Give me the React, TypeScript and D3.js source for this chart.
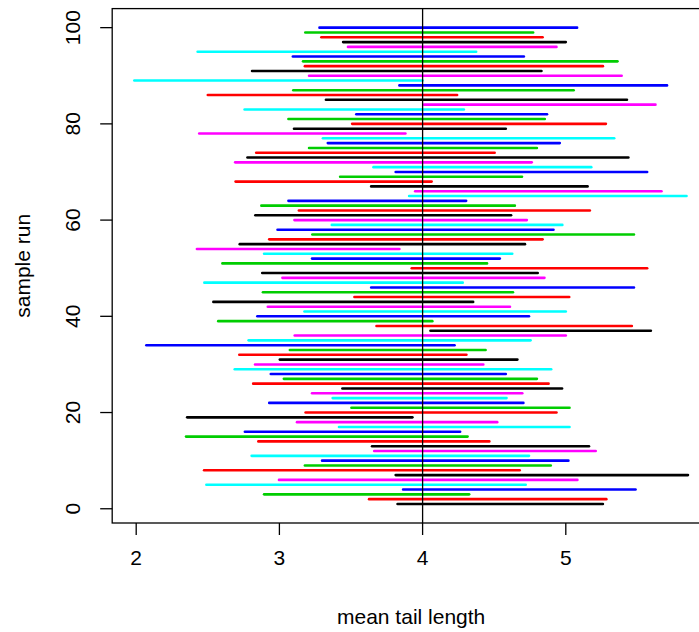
import React from 'react'
import * as d3 from 'd3'

// confidence intervals for 100 sample runs (run 1 at the bottom)
const lower = [
  3.825, 3.626, 2.893, 3.864, 2.490, 2.997, 3.812, 2.474, 3.178, 3.298,
  2.806, 3.662, 3.647, 2.853, 2.348, 2.759, 3.416, 3.123, 2.356, 3.183,
  3.503, 2.929, 3.372, 3.228, 3.440, 2.817, 3.031, 2.940, 2.688, 2.830,
  3.003, 2.720, 3.073, 2.071, 2.785, 3.107, 4.055, 3.678, 2.573, 2.846,
  3.175, 2.919, 2.539, 3.524, 2.885, 3.641, 2.476, 3.021, 2.880, 3.924,
  2.602, 3.228, 2.893, 2.424, 2.723, 2.929, 3.230, 2.987, 3.366, 3.105,
  2.832, 3.136, 2.874, 3.063, 3.906, 3.948, 3.641, 2.694, 3.424, 3.812,
  3.657, 2.691, 2.777, 2.838, 3.207, 3.338, 3.304, 2.440, 3.102, 3.508,
  3.063, 3.537, 2.757, 4.010, 3.325, 2.500, 3.097, 3.838, 1.987, 3.207,
  2.809, 3.178, 3.165, 3.094, 2.429, 3.479, 3.445, 3.293, 3.181, 3.280,
]
const upper = [
  5.259, 5.283, 4.325, 5.487, 4.720, 5.081, 5.853, 4.678, 4.895, 5.018,
  4.743, 5.209, 5.162, 4.466, 4.314, 4.262, 5.026, 4.521, 3.929, 4.935,
  5.026, 4.704, 4.586, 4.696, 4.974, 4.880, 4.798, 4.581, 4.898, 4.424,
  4.662, 4.306, 4.440, 4.223, 4.754, 5.000, 5.594, 5.461, 4.068, 4.743,
  5.000, 4.610, 4.353, 5.024, 4.631, 5.476, 4.280, 4.851, 4.804, 5.568,
  4.450, 4.539, 4.626, 3.838, 4.715, 4.838, 5.476, 4.914, 4.976, 4.728,
  4.618, 5.168, 4.644, 4.304, 5.843, 5.668, 5.152, 4.063, 4.694, 5.568,
  5.178, 4.762, 5.437, 4.503, 4.798, 4.958, 5.338, 3.880, 4.581, 5.280,
  4.853, 4.869, 4.288, 5.626, 5.427, 4.241, 5.055, 5.707, 4.000, 5.390,
  4.830, 5.259, 5.361, 4.707, 4.374, 4.935, 5.000, 4.838, 4.772, 5.079,
]
const palette = ['#000000', '#FF0000', '#00CD00', '#0000FF', '#00FFFF', '#FF00FF']
const xTicks = [2, 3, 4, 5]
const yTicks = [0, 20, 40, 60, 80, 100]
const trueMean = 4

const W = 699
const H = 632
const font = 'Liberation Sans, Arial, Helvetica, sans-serif'

export default function App() {
  const runs = d3.range(1, lower.length + 1)

  const xScale = d3.scaleLinear().domain([2, 5]).range([136.2, 565.8])
  const lo = d3.min(lower) as number
  const hi = d3.max(upper) as number
  const xPad = 0.04 * (hi - lo)
  const yPad = 0.04 * (runs.length - 1)
  const yScale = d3.scaleLinear().domain([1 - yPad, runs.length + yPad]).range([523, 8.6])

  const left = xScale(lo - xPad)
  const right = xScale(hi + xPad)
  const top = yScale(runs.length + yPad)
  const bottom = yScale(1 - yPad)
  const tick = 12

  return (
    <svg width={W} height={H} style={{ display: 'block', position: 'absolute', left: 0, top: 0 }}
      fontFamily={font}>
      <rect width={W} height={H} fill="#fff" />

      {runs.map((r, i) => (
        <line key={r} x1={xScale(lower[i])} x2={xScale(upper[i])}
          y1={yScale(r)} y2={yScale(r)}
          stroke={palette[i % palette.length]} strokeWidth={2.6} strokeLinecap="round" />
      ))}

      <line x1={xScale(trueMean)} x2={xScale(trueMean)} y1={top} y2={bottom}
        stroke="#000" strokeWidth={1.3} />

      <rect x={left} y={top} width={right - left} height={bottom - top}
        fill="none" stroke="#000" strokeWidth={1.3} />

      {xTicks.map(t => (
        <g key={t}>
          <line x1={xScale(t)} x2={xScale(t)} y1={bottom} y2={bottom + tick} stroke="#000" strokeWidth={1.3} />
          <text x={xScale(t)} y={bottom + 34} textAnchor="middle" dominantBaseline="central"
            fontSize={21}>{t}</text>
        </g>
      ))}

      {yTicks.map(t => (
        <g key={t}>
          <line x1={left - tick} x2={left} y1={yScale(t)} y2={yScale(t)} stroke="#000" strokeWidth={1.3} />
          <text transform={`translate(72,${yScale(t)}) rotate(-90)`} textAnchor="middle"
            dominantBaseline="central" fontSize={21}>{t}</text>
        </g>
      ))}

      <text x={(left + right) / 2} y={616} textAnchor="middle" dominantBaseline="central"
        fontSize={21}>mean tail length</text>
      <text transform={`translate(22,${(top + bottom) / 2}) rotate(-90)`} textAnchor="middle"
        dominantBaseline="central" fontSize={21}>sample run</text>
    </svg>
  )
}
